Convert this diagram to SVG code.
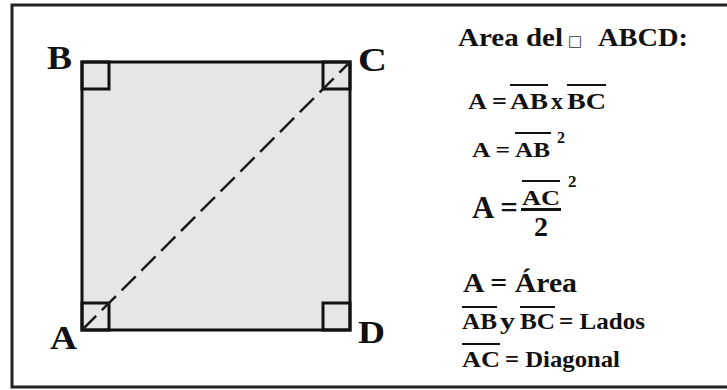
<svg xmlns="http://www.w3.org/2000/svg" width="727" height="390" viewBox="0 0 727 390">
<style>
.t{font-weight:bold;fill:#111}
.ln{stroke:#111;stroke-width:3;fill:none}
.ov{stroke:#111;stroke-width:2;fill:none}
</style>
<rect x="0" y="0" width="727" height="390" fill="#fff"/>
<rect x="12" y="5" width="730" height="382" fill="none" stroke="#222" stroke-width="3"/>
<g id="figure">
  <rect id="square" x="82" y="62" width="268" height="268" fill="#e6e6e6" stroke="#111" stroke-width="3"/>
  <g id="right-angles" class="ln">
    <rect x="82" y="62" width="27" height="27"/>
    <rect x="323" y="62" width="27" height="27"/>
    <rect x="82" y="303" width="27" height="27"/>
    <rect x="323" y="303" width="27" height="27"/>
  </g>
</g>
<g id="connectors">
  <line id="diagonal-AC" x1="82" y1="330" x2="350" y2="62" stroke="#1a1a1a" stroke-width="2.5" stroke-dasharray="20 8"/>
</g>
<g font-family="Liberation Serif, DejaVu Serif, serif">
<g id="vertex-B"><text class="t" x="47" y="69" font-size="34" textLength="25" lengthAdjust="spacingAndGlyphs">B</text></g>
<g id="vertex-C"><text class="t" x="358" y="71" font-size="34" textLength="29" lengthAdjust="spacingAndGlyphs">C</text></g>
<g id="vertex-A"><text class="t" x="50" y="349" font-size="34" textLength="27" lengthAdjust="spacingAndGlyphs">A</text></g>
<g id="vertex-D"><text class="t" x="358" y="343" font-size="32" textLength="27" lengthAdjust="spacingAndGlyphs">D</text></g>
<g id="title">
  <text class="t" x="458" y="46" font-size="25" textLength="105" lengthAdjust="spacingAndGlyphs">Area del</text>
  <text x="568" y="46" font-size="15" fill="#333" font-family="DejaVu Sans, sans-serif">□</text>
  <text class="t" x="598" y="46" font-size="25" textLength="90" lengthAdjust="spacingAndGlyphs">ABCD:</text>
</g>
<g id="formula-1">
  <text class="t" x="468" y="109" font-size="23" textLength="39" lengthAdjust="spacingAndGlyphs">A =</text>
  <text class="t" x="510" y="109" font-size="23" textLength="38" lengthAdjust="spacingAndGlyphs">AB</text>
  <text class="t" x="551" y="109" font-size="23" textLength="12" lengthAdjust="spacingAndGlyphs">x</text>
  <text class="t" x="567" y="109" font-size="23" textLength="39" lengthAdjust="spacingAndGlyphs">BC</text>
  <line class="ov" x1="510" y1="85" x2="548" y2="85"/>
  <line class="ov" x1="567" y1="85" x2="606" y2="85"/>
</g>
<g id="formula-2">
  <text class="t" x="472" y="157" font-size="22" textLength="38" lengthAdjust="spacingAndGlyphs">A =</text>
  <text class="t" x="515" y="157" font-size="22" textLength="35" lengthAdjust="spacingAndGlyphs">AB</text>
  <text class="t" x="557" y="143" font-size="16">2</text>
  <line class="ov" x1="515" y1="133" x2="551" y2="133"/>
</g>
<g id="formula-3">
  <text class="t" x="472" y="218" font-size="31" textLength="46" lengthAdjust="spacingAndGlyphs">A =</text>
  <text class="t" x="522" y="205" font-size="21" textLength="38" lengthAdjust="spacingAndGlyphs">AC</text>
  <line class="ov" x1="522" y1="181" x2="560" y2="181"/>
  <line x1="521" y1="209.5" x2="561" y2="209.5" stroke="#111" stroke-width="3"/>
  <text class="t" x="534" y="236" font-size="28" textLength="14" lengthAdjust="spacingAndGlyphs">2</text>
  <text class="t" x="568" y="187" font-size="17">2</text>
</g>
<g id="legend">
  <text class="t" x="463" y="292" font-size="28" textLength="114" lengthAdjust="spacingAndGlyphs">A = Área</text>
  <text class="t" x="462" y="329" font-size="23" textLength="35" lengthAdjust="spacingAndGlyphs">AB</text>
  <text class="t" x="500" y="329" font-size="23" textLength="15" lengthAdjust="spacingAndGlyphs">y</text>
  <text class="t" x="520" y="329" font-size="23" textLength="35" lengthAdjust="spacingAndGlyphs">BC</text>
  <text class="t" x="559" y="329" font-size="23" textLength="86" lengthAdjust="spacingAndGlyphs">= Lados</text>
  <line class="ov" x1="462" y1="307" x2="497" y2="307"/>
  <line class="ov" x1="520" y1="307" x2="555" y2="307"/>
  <text class="t" x="462" y="367" font-size="24" textLength="38" lengthAdjust="spacingAndGlyphs">AC</text>
  <text class="t" x="505" y="367" font-size="24" textLength="115" lengthAdjust="spacingAndGlyphs">= Diagonal</text>
  <line class="ov" x1="462" y1="344" x2="500" y2="344"/>
</g>
</g>
</svg>
